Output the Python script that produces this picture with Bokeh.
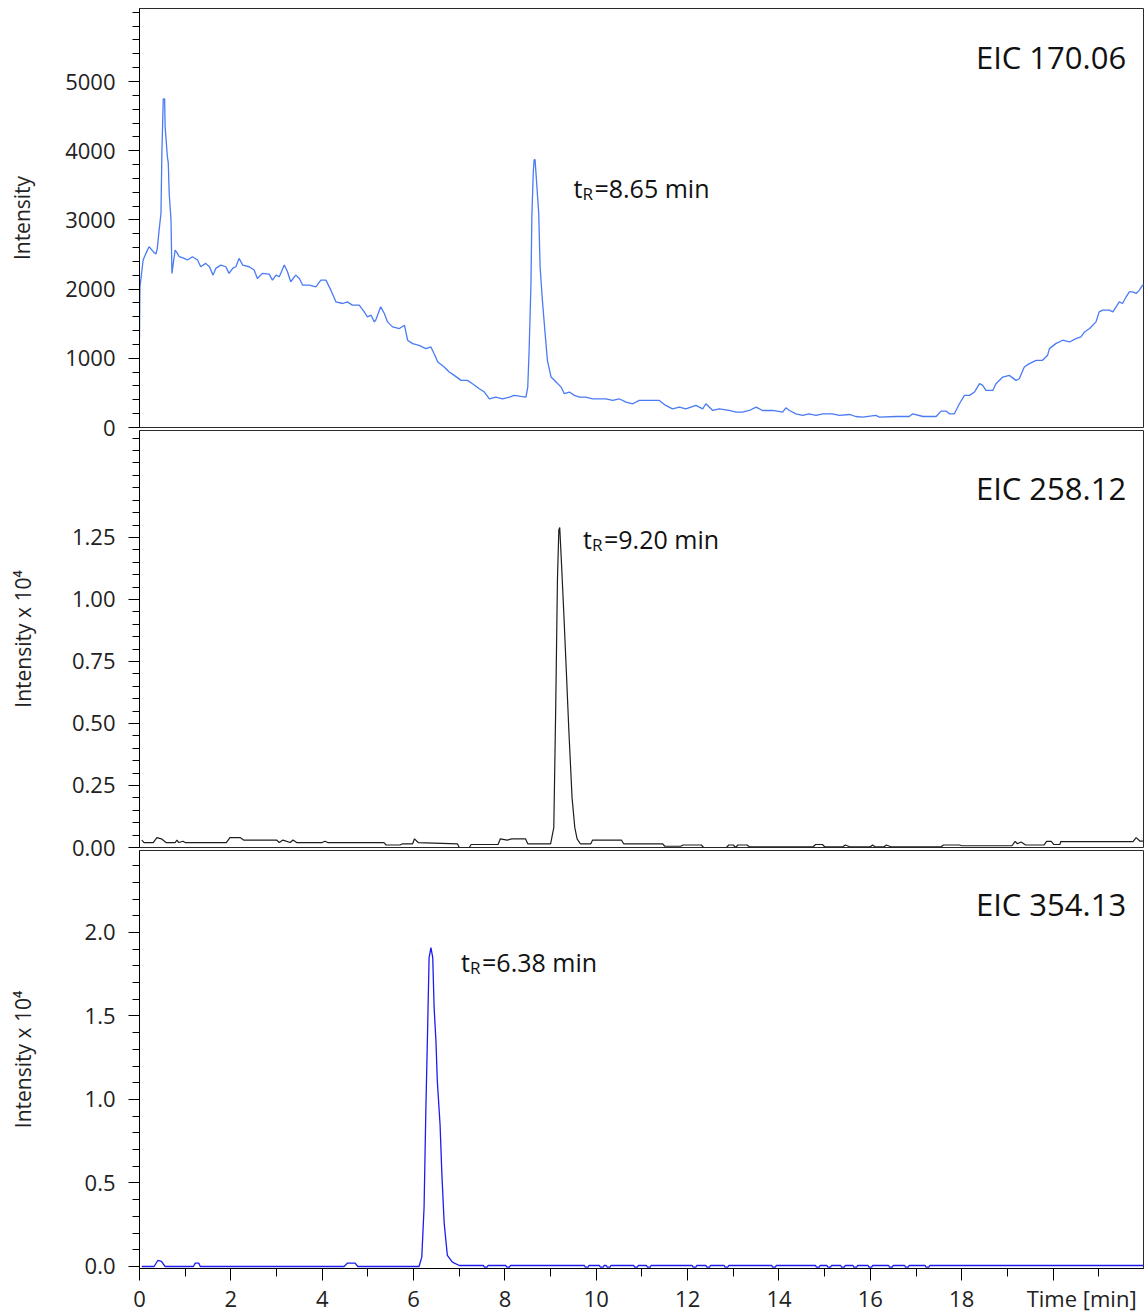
from bokeh.plotting import figure
from bokeh.layouts import column
from bokeh.models import Range1d, FixedTicker, NumeralTickFormatter, Label, CustomJSTickFormatter
from bokeh.embed import file_html
from bokeh.resources import INLINE

FONT = "Open Sans"

# ---- EIC 170.06 (intensity, counts) ----
time_170 = [0.00, 0.01, 0.08, 0.14, 0.21, 0.30, 0.36, 0.39, 0.43, 0.47,
            0.49, 0.52, 0.55, 0.56, 0.61, 0.63, 0.65, 0.69, 0.71, 0.74,
            0.78, 0.83, 0.87, 0.98, 1.05, 1.16, 1.27, 1.34, 1.45, 1.53,
            1.61, 1.67, 1.78, 1.89, 1.96, 2.04, 2.11, 2.18, 2.26, 2.40,
            2.51, 2.58, 2.69, 2.84, 2.91, 2.99, 3.06, 3.17, 3.24, 3.31,
            3.42, 3.50, 3.57, 3.72, 3.86, 3.97, 4.08, 4.19, 4.30, 4.45,
            4.55, 4.66, 4.81, 4.92, 4.99, 5.07, 5.14, 5.17, 5.28, 5.36,
            5.43, 5.54, 5.69, 5.80, 5.87, 5.98, 6.12, 6.27, 6.38, 6.45,
            6.53, 6.67, 6.78, 6.89, 7.04, 7.18, 7.29, 7.44, 7.55, 7.66,
            7.80, 7.95, 8.10, 8.20, 8.35, 8.46, 8.50, 8.53, 8.57, 8.59,
            8.62, 8.64, 8.66, 8.69, 8.74, 8.77, 8.82, 8.88, 8.93, 9.01,
            9.12, 9.23, 9.30, 9.41, 9.52, 9.63, 9.77, 9.92, 10.07, 10.21,
            10.36, 10.50, 10.65, 10.80, 10.94, 11.09, 11.38, 11.52, 11.67, 11.82,
            11.96, 12.18, 12.33, 12.40, 12.55, 12.69, 12.91, 13.06, 13.20, 13.35,
            13.50, 13.64, 13.86, 14.08, 14.15, 14.23, 14.37, 14.52, 14.66, 14.81,
            14.96, 15.17, 15.32, 15.54, 15.68, 15.83, 16.12, 16.20, 16.56, 16.85,
            16.93, 17.15, 17.44, 17.55, 17.66, 17.73, 17.84, 17.95, 18.06, 18.17,
            18.28, 18.39, 18.46, 18.53, 18.68, 18.75, 18.90, 19.04, 19.19, 19.26,
            19.37, 19.48, 19.63, 19.77, 19.88, 19.92, 20.06, 20.21, 20.36, 20.50,
            20.61, 20.69, 20.80, 20.94, 21.01, 21.09, 21.23, 21.31, 21.38, 21.45,
            21.52, 21.60, 21.67, 21.74, 21.82, 21.89, 21.96, 22.02]
int_170 = [1290, 2033, 2420, 2516, 2613, 2541, 2507, 2589, 2855, 3096,
           3965, 4748, 4748, 4352, 3917, 3821, 3386, 2999, 2227, 2372,
           2565, 2516, 2468, 2444, 2420, 2468, 2420, 2323, 2372, 2323,
           2202, 2299, 2347, 2323, 2227, 2299, 2323, 2444, 2347, 2323,
           2275, 2154, 2227, 2217, 2130, 2202, 2178, 2347, 2251, 2106,
           2202, 2154, 2058, 2058, 2033, 2130, 2130, 1985, 1816, 1792,
           1816, 1768, 1768, 1671, 1599, 1623, 1526, 1550, 1744, 1647,
           1526, 1454, 1430, 1478, 1261, 1212, 1188, 1140, 1164, 1067,
           947, 874, 802, 753, 681, 681, 633, 560, 512, 415,
           440, 415, 440, 464, 449, 440, 584, 1116, 2082, 3048,
           3676, 3869, 3869, 3579, 3096, 2323, 1840, 1357, 971, 729,
           657, 584, 488, 512, 464, 440, 440, 415, 415, 415,
           391, 415, 367, 343, 391, 391, 391, 319, 270, 295,
           270, 319, 270, 343, 246, 270, 246, 222, 222, 246,
           295, 246, 246, 222, 285, 246, 198, 174, 198, 174,
           198, 198, 174, 188, 159, 150, 174, 150, 159, 159,
           198, 159, 159, 237, 237, 198, 198, 343, 464, 464,
           512, 633, 609, 536, 536, 633, 729, 753, 681, 705,
           874, 923, 971, 971, 1043, 1140, 1212, 1261, 1236, 1285,
           1309, 1381, 1430, 1526, 1671, 1695, 1695, 1671, 1744, 1816,
           1792, 1889, 1961, 1961, 1937, 1985, 2058, 2058]

# ---- EIC 258.12 (intensity x 10^4) ----
time_258 = [0.05, 0.10, 0.30, 0.38, 0.48, 0.58, 0.78, 0.82, 0.86, 0.95,
            1.00, 1.90, 1.98, 2.20, 2.28, 3.00, 3.06, 3.14, 3.30, 3.36,
            3.44, 4.00, 4.06, 4.12, 5.35, 5.40, 5.70, 5.76, 5.98, 6.02,
            6.10, 6.96, 7.00, 7.22, 7.26, 7.85, 7.90, 8.05, 8.15, 8.45,
            8.50, 9.00, 9.07, 9.11, 9.15, 9.18, 9.20, 9.24, 9.29, 9.34,
            9.40, 9.47, 9.53, 9.58, 9.65, 9.88, 9.92, 10.55, 10.60, 11.45,
            11.50, 11.85, 11.90, 12.30, 12.35, 12.85, 12.90, 13.00, 13.05, 13.10,
            13.30, 13.35, 14.75, 14.80, 14.95, 15.00, 15.40, 15.45, 15.55, 16.00,
            16.05, 16.10, 16.30, 16.35, 16.45, 17.55, 17.60, 17.95, 18.00, 19.10,
            19.17, 19.22, 19.30, 19.40, 19.80, 19.86, 19.96, 20.02, 20.15, 20.17,
            21.75, 21.82, 21.90, 22.00]
int_258 = [0.030, 0.020, 0.020, 0.040, 0.035, 0.020, 0.020, 0.030, 0.020, 0.025,
           0.020, 0.020, 0.040, 0.040, 0.030, 0.030, 0.020, 0.030, 0.020, 0.030,
           0.020, 0.020, 0.025, 0.020, 0.020, 0.010, 0.010, 0.015, 0.015, 0.035,
           0.020, 0.015, 0.000, 0.000, 0.012, 0.012, 0.035, 0.030, 0.035, 0.035,
           0.015, 0.015, 0.080, 0.540, 1.080, 1.280, 1.290, 1.140, 0.940, 0.730,
           0.470, 0.200, 0.080, 0.035, 0.015, 0.015, 0.030, 0.030, 0.015, 0.015,
           0.005, 0.005, 0.010, 0.010, 0.000, 0.000, 0.010, 0.010, 0.000, 0.010,
           0.010, 0.003, 0.003, 0.012, 0.012, 0.003, 0.003, 0.010, 0.003, 0.003,
           0.010, 0.003, 0.003, 0.010, 0.003, 0.003, 0.010, 0.010, 0.007, 0.007,
           0.025, 0.015, 0.022, 0.010, 0.010, 0.025, 0.025, 0.012, 0.012, 0.024,
           0.024, 0.040, 0.026, 0.026]

# ---- EIC 354.13 (intensity x 10^4) ----
time_354 = [0.05, 0.32, 0.40, 0.48, 0.56, 1.18, 1.22, 1.30, 1.33, 4.48,
            4.55, 4.72, 4.78, 6.12, 6.18, 6.23, 6.27, 6.31, 6.34, 6.38,
            6.42, 6.45, 6.49, 6.52, 6.58, 6.62, 6.67, 6.74, 6.85, 7.00,
            7.53, 7.55, 7.61, 7.63, 8.02, 8.04, 8.10, 8.12,
            9.74, 9.76, 9.82, 9.84, 10.07, 10.09, 10.15, 10.17,
            10.22, 10.24, 10.30, 10.32, 10.82, 10.84, 10.90, 10.92,
            11.10, 11.12, 11.18, 11.20, 12.10, 12.12, 12.18, 12.20,
            12.40, 12.42, 12.48, 12.50, 12.80, 12.82, 12.88, 12.90,
            13.84, 13.86, 13.92, 13.94, 14.80, 14.82, 14.88, 14.90,
            15.05, 15.07, 15.13, 15.15, 15.35, 15.37, 15.43, 15.45,
            15.62, 15.64, 15.70, 15.72, 15.95, 15.97, 16.03, 16.05,
            16.40, 16.42, 16.48, 16.50, 16.75, 16.77, 16.83, 16.85,
            17.20, 17.22, 17.28, 17.30, 22.00]
int_354 = [0.000, 0.000, 0.036, 0.030, 0.000, 0.000, 0.020, 0.020, 0.000, 0.000,
           0.020, 0.020, 0.000, 0.000, 0.056, 0.355, 0.950, 1.450, 1.850, 1.910,
           1.850, 1.550, 1.350, 1.110, 0.850, 0.550, 0.260, 0.066, 0.026, 0.006,
           0.006, -0.004, -0.004, 0.006, 0.006, -0.004, -0.004, 0.006,
           0.006, -0.004, -0.004, 0.006, 0.006, -0.004, -0.004, 0.006,
           0.006, -0.004, -0.004, 0.006, 0.006, -0.004, -0.004, 0.006,
           0.006, -0.004, -0.004, 0.006, 0.006, -0.004, -0.004, 0.006,
           0.006, -0.004, -0.004, 0.006, 0.006, -0.004, -0.004, 0.006,
           0.006, -0.004, -0.004, 0.006, 0.006, -0.004, -0.004, 0.006,
           0.006, -0.004, -0.004, 0.006, 0.006, -0.004, -0.004, 0.006,
           0.006, -0.004, -0.004, 0.006, 0.006, -0.004, -0.004, 0.006,
           0.006, -0.004, -0.004, 0.006, 0.006, -0.004, -0.004, 0.006,
           0.006, -0.004, -0.004, 0.006, 0.006]

# ---- axis ticks ----
x_major = [0, 2, 4, 6, 8, 10, 12, 14, 16, 18, 20]
x_minor = [1, 3, 5, 7, 9, 11, 13, 15, 17, 19, 21]
x_title = "Time [min]"

y_major_170 = [0, 1000, 2000, 3000, 4000, 5000]
y_minor_170 = [v * 200 for v in range(1, 31)]
y_major_258 = [0.0, 0.25, 0.50, 0.75, 1.00, 1.25]
y_minor_258 = [round(v * 0.05, 2) for v in range(1, 34)]
y_major_354 = [0.0, 0.5, 1.0, 1.5, 2.0]
y_minor_354 = [round(v * 0.1, 1) for v in range(1, 25)]

# panel titles and retention-time annotations
eic_titles = ["EIC 170.06", "EIC 258.12", "EIC 354.13"]
rt_values = ["8.65", "9.20", "6.38"]

x_range = Range1d(0, 21.98)


def make_panel(y_range, frame_h, top, bottom, margin_top, transparent):
    p = figure(x_range=x_range, y_range=y_range,
               frame_width=1004, frame_height=frame_h,
               min_border_left=139, min_border_right=4,
               min_border_top=top, min_border_bottom=bottom,
               output_backend="svg", toolbar_location=None, tools="")
    if margin_top:
        p.margin = (margin_top, 0, 0, 0)
    if transparent:
        p.border_fill_color = None
    p.xgrid.visible = False
    p.ygrid.visible = False
    p.outline_line_color = "#2a2a2a"
    p.outline_line_width = 1
    ax = p.yaxis[0]
    ax.axis_line_color = "black"
    ax.major_tick_line_color = "black"
    ax.minor_tick_line_color = "black"
    ax.major_tick_out = 11
    ax.major_tick_in = 0
    ax.minor_tick_out = 7
    ax.minor_tick_in = 0
    ax.major_label_standoff = 13
    ax.major_label_text_font = FONT
    ax.major_label_text_font_size = "22px"
    ax.major_label_text_color = "#222222"
    ax.axis_label_text_font = FONT
    ax.axis_label_text_font_size = "21px"
    ax.axis_label_text_font_style = "normal"
    ax.axis_label_text_color = "#222222"
    return p


def add_texts(p, title, title_y, rt, rt_x, rt_y, sub_dy):
    p.add_layout(Label(x=21.6, y=title_y, text=title, text_font=FONT,
                       text_font_size="31px", text_color="#111111",
                       text_align="right", text_baseline="alphabetic"))
    p.add_layout(Label(x=rt_x, y=rt_y, text="t", text_font=FONT,
                       text_font_size="25px", text_color="#111111",
                       text_baseline="alphabetic"))
    p.add_layout(Label(x=rt_x, y=rt_y - sub_dy, x_offset=9, text="R", text_font=FONT,
                       text_font_size="17px", text_color="#111111",
                       text_baseline="alphabetic"))
    p.add_layout(Label(x=rt_x, y=rt_y, x_offset=21, text="=" + rt + " min", text_font=FONT,
                       text_font_size="25px", text_color="#111111",
                       text_baseline="alphabetic"))


# top panel: EIC 170.06
p1 = make_panel(Range1d(0, 6055), 419, 8, 12, 0, False)
p1.line(time_170, int_170, line_color="#4a7bf5", line_width=1.3)
p1.xaxis.visible = False
p1.yaxis.ticker = FixedTicker(ticks=y_major_170, minor_ticks=y_minor_170)
p1.yaxis.formatter = NumeralTickFormatter(format="0")
p1.yaxis.axis_label = "Intensity"
p1.yaxis.axis_label_standoff = 26
add_texts(p1, eic_titles[0], 5360, rt_values[0], 9.50, 3465, 87)

# middle panel: EIC 258.12
p2 = make_panel(Range1d(0, 1.681), 417, 3, 12, -12, True)
p2.line(time_258, int_258, line_color="#1e1e1e", line_width=1.2)
p2.xaxis.visible = False
p2.yaxis.ticker = FixedTicker(ticks=y_major_258, minor_ticks=y_minor_258)
p2.yaxis.formatter = NumeralTickFormatter(format="0.00")
p2.yaxis.axis_label = "Intensity x 10\u2074"
p2.yaxis.axis_label_standoff = 32
add_texts(p2, eic_titles[1], 1.450, rt_values[1], 9.71, 1.244, 0.024)

# bottom panel: EIC 354.13 with the time axis
p3 = make_panel(Range1d(-0.012, 2.491), 418, 3, 40, -12, True)
p3.line(time_354, int_354, line_color="#1c1cf0", line_width=1.3)
p3.yaxis.ticker = FixedTicker(ticks=y_major_354, minor_ticks=y_minor_354)
p3.yaxis.formatter = NumeralTickFormatter(format="0.0")
p3.yaxis.axis_label = "Intensity x 10\u2074"
p3.yaxis.axis_label_standoff = 45
add_texts(p3, eic_titles[2], 2.168, rt_values[2], 7.04, 1.825, 0.036)

# time axis: the last major tick carries the axis title, nudged right
xa = p3.xaxis[0]
xa.ticker = FixedTicker(ticks=x_major, minor_ticks=x_minor)
xa.formatter = CustomJSTickFormatter(
    args=dict(title=x_title),
    code="return tick >= 20 ? '\\u00a0'.repeat(10) + title : tick.toFixed(0);")
xa.axis_line_color = "black"
xa.major_tick_line_color = "black"
xa.minor_tick_line_color = "black"
xa.major_tick_out = 12
xa.major_tick_in = 0
xa.minor_tick_out = 8
xa.minor_tick_in = 0
xa.major_label_standoff = 2
xa.major_label_text_font = FONT
xa.major_label_text_font_size = "22px"
xa.major_label_text_color = "#222222"

layout = column(p1, p2, p3, spacing=0)

open("out.html", "w").write(file_html(layout, INLINE))
